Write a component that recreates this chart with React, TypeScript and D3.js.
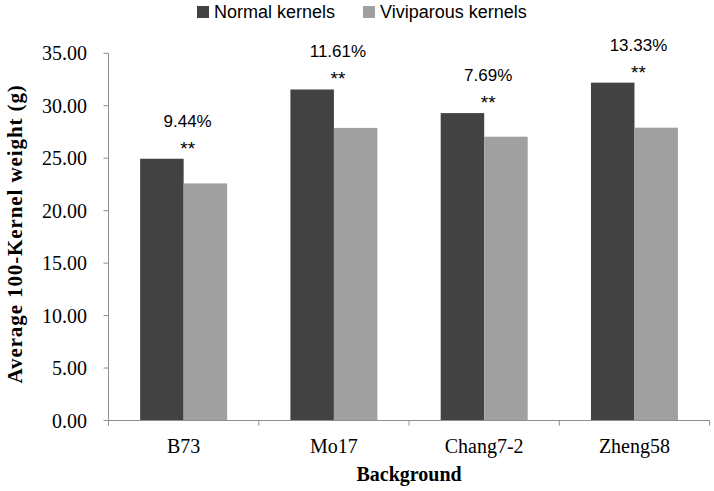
import React from "react";
import * as d3 from "d3";

const categories = ["B73", "Mo17", "Chang7-2", "Zheng58"];
const seriesNames = ["Normal kernels", "Viviparous kernels"];
const normalValues = [24.95, 31.55, 29.3, 32.2];
const viviparousValues = [22.6, 27.89, 27.05, 27.91];
const percentLabels = ["9.44%", "11.61%", "7.69%", "13.33%"];
const sigLabels = ["**", "**", "**", "**"];
const yTicks = [0, 5, 10, 15, 20, 25, 30, 35];
const colors = ["#424242", "#a0a0a0"];

const W = 714;
const H = 491;

export default function App() {
  const left = 108.5;
  const right = 709.6;
  const bottom = 420.5;
  const top = 53.3;

  const y = d3.scaleLinear().domain([0, 35]).range([bottom, top]);
  const x0 = d3.scaleBand<string>().domain(categories).range([left, right]).padding(0);
  const bw = x0.bandwidth();
  const groupW = 87;
  const x1 = d3
    .scaleBand<string>()
    .domain(seriesNames)
    .range([(bw - groupW) / 2, (bw + groupW) / 2])
    .padding(0);

  const axisColor = "#8e8e8e";
  const serif = "'Liberation Serif', 'Times New Roman', serif";
  const sans = "'Liberation Sans', Arial, sans-serif";
  const series = [normalValues, viviparousValues];

  const boundaries = categories.map((c) => x0(c) as number).concat([right]);

  return (
    <svg width={W} height={H} style={{ position: "absolute", left: 0, top: 0, background: "#fff" }}>
      {/* legend */}
      <g>
        <rect x={197} y={6} width={12} height={12} fill={colors[0]} />
        <text x={214} y={18} fontFamily={sans} fontSize={18} fill="#000">
          {seriesNames[0]}
        </text>
        <rect x={363} y={6} width={12} height={12} fill={colors[1]} />
        <text x={380} y={18} fontFamily={sans} fontSize={18} fill="#000">
          {seriesNames[1]}
        </text>
      </g>

      {/* bars */}
      {categories.map((c, i) => (
        <g key={c}>
          {seriesNames.map((s, j) => (
            <rect
              key={s}
              x={(x0(c) as number) + (x1(s) as number)}
              y={y(series[j][i])}
              width={x1.bandwidth()}
              height={bottom - y(series[j][i])}
              fill={colors[j]}
            />
          ))}
        </g>
      ))}

      {/* labels */}
      {categories.map((c, i) => {
        const cx = (x0(c) as number) + bw / 2 + 4;
        const yt = y(normalValues[i]);
        return (
          <g key={"l" + c} fontFamily={sans} fontSize={17} textAnchor="middle" fill="#000">
            <text x={cx} y={yt - 32}>{percentLabels[i]}</text>
            <text x={cx} y={yt - 4} fontSize={19}>{sigLabels[i]}</text>
          </g>
        );
      })}

      {/* y axis */}
      <line x1={left} x2={left} y1={top} y2={bottom} stroke={axisColor} strokeWidth={1} />
      {yTicks.map((t) => (
        <g key={t}>
          <line x1={left - 5} x2={left} y1={y(t)} y2={y(t)} stroke={axisColor} />
          <text
            x={87}
            y={y(t)}
            dy="0.35em"
            textAnchor="end"
            fontFamily={serif}
            fontSize={20}
            fill="#000"
          >
            {t.toFixed(2)}
          </text>
        </g>
      ))}

      {/* x axis */}
      <line x1={left} x2={right} y1={bottom} y2={bottom} stroke={axisColor} />
      {boundaries.map((b, i) => (
        <line key={i} x1={b} x2={b} y1={bottom} y2={bottom + 5} stroke={axisColor} />
      ))}
      {categories.map((c) => (
        <text
          key={"c" + c}
          x={(x0(c) as number) + bw / 2}
          y={453}
          textAnchor="middle"
          fontFamily={serif}
          fontSize={20}
          fill="#000"
        >
          {c}
        </text>
      ))}
      <text
        x={(left + right) / 2}
        y={481}
        textAnchor="middle"
        fontFamily={serif}
        fontSize={20}
        fontWeight="bold"
        fill="#000"
      >
        Background
      </text>
      <text
        transform={`translate(22, ${(top + bottom) / 2 - 3}) rotate(-90)`}
        textAnchor="middle"
        fontFamily={serif}
        fontSize={21}
        letterSpacing={0.9}
        fontWeight="bold"
        fill="#000"
      >
        Average 100-Kernel weight (g)
      </text>
    </svg>
  );
}
